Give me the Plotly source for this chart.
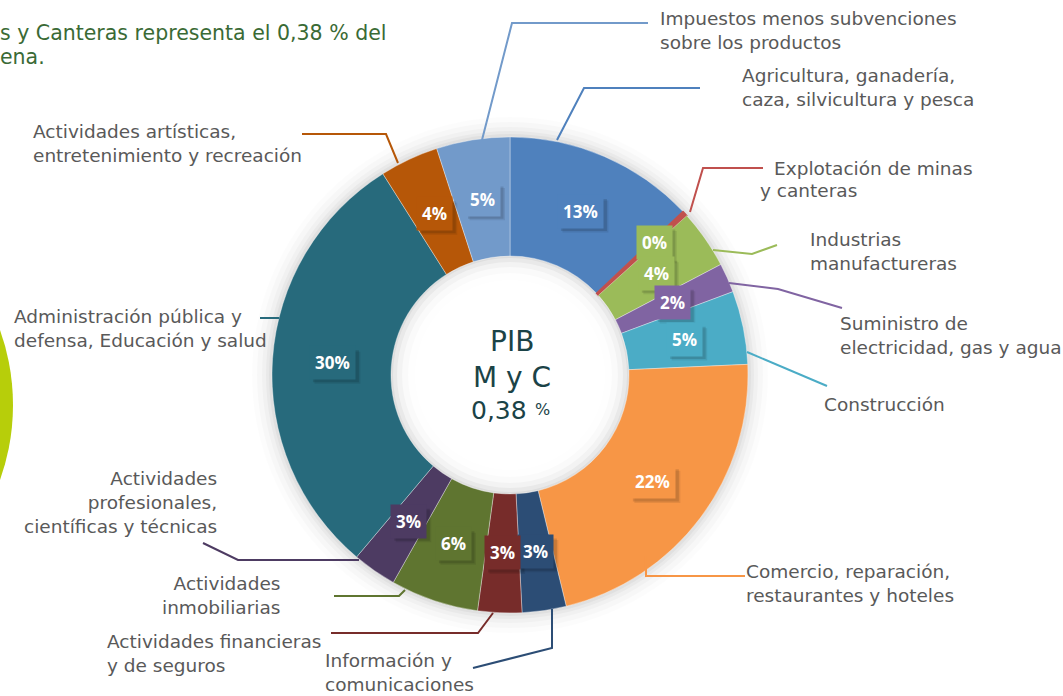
import math
import plotly.graph_objects as go

# ---------------- data ----------------
sectors = [
    "Agricultura, ganadería, caza, silvicultura y pesca",
    "Explotación de minas y canteras",
    "Industrias manufactureras",
    "Suministro de electricidad, gas y agua",
    "Construcción",
    "Comercio, reparación, restaurantes y hoteles",
    "Información y comunicaciones",
    "Actividades financieras y de seguros",
    "Actividades inmobiliarias",
    "Actividades profesionales, científicas y técnicas",
    "Administración pública y defensa, Educación y salud",
    "Actividades artísticas, entretenimiento y recreación",
    "Impuestos menos subvenciones sobre los productos",
]
shares = [13, 0.38, 4, 2, 5, 22, 3, 3, 6, 3, 30, 4, 5]
pct_labels = ["13%", "0%", "4%", "2%", "5%", "22%", "3%", "3%", "6%", "3%", "30%", "4%", "5%"]
slice_colors = ["#4F81BD", "#C0504D", "#9BBB59", "#8064A2", "#4BACC6", "#F79646", "#2C4D75",
                "#772C2A", "#5F7530", "#4D3B62", "#276A7C", "#B65708", "#729ACA"]
label_box_colors = ["#4F81BD", "#9BBB59", "#9BBB59", "#8064A2", "#4BACC6", "#F79646", "#2C4D75",
                    "#772C2A", "#5F7530", "#4D3B62", "#276A7C", "#B65708", "#729ACA"]

outer_text = [
    "Agricultura, ganadería,<br>caza, silvicultura y pesca",
    None,
    "Industrias<br>manufactureras",
    "Suministro de<br>electricidad, gas y agua",
    "Construcción",
    "Comercio, reparación,<br>restaurantes y hoteles",
    "Información y<br>comunicaciones",
    "Actividades financieras<br>y de seguros",
    "Actividades<br>inmobiliarias",
    "Actividades<br>profesionales,<br>científicas y técnicas",
    "Administración pública y<br>defensa, Educación y salud",
    "Actividades artísticas,<br>entretenimiento y recreación",
    "Impuestos menos subvenciones<br>sobre los productos",
]

# ---------------- layout constants (pixels) ----------------
W, H = 1063, 696
CX, CY, R = 510, 375, 238
HOLE = 0.5
label_radius = [178, 196, 178, 178, 178, 178, 178, 178, 178, 178, 178, 178, 178]


def px(x):
    return x / W


def py(y):
    return 1 - y / H


fig = go.Figure()

fig.add_trace(go.Pie(
    labels=sectors,
    values=shares,
    sort=False,
    direction="clockwise",
    rotation=0,
    hole=HOLE,
    textinfo="none",
    hoverinfo="label+percent",
    marker=dict(colors=slice_colors,
                line=dict(color=["rgba(255,255,255,0.45)"] + ["#C0504D"] + ["rgba(255,255,255,0.45)"] * 11,
                          width=[0.8, 1.5] + [0.8] * 11)),
    domain=dict(x=[px(CX - R), px(CX + R)], y=[py(CY + R), py(CY - R)]),
    showlegend=False,
))

shapes = []
# soft outer glow
for rr, a in [(258, 0.012), (253, 0.018), (248, 0.024), (244, 0.03), (241, 0.035)]:
    shapes.append(dict(type="circle", xref="paper", yref="paper", layer="below",
                       x0=px(CX - rr), x1=px(CX + rr), y0=py(CY + rr), y1=py(CY - rr),
                       fillcolor=f"rgba(0,0,0,{a})", line=dict(width=0)))
# inner shading of the hole
shapes.append(dict(type="circle", xref="paper", yref="paper", layer="below",
                   x0=px(CX - 121), x1=px(CX + 121), y0=py(CY + 121), y1=py(CY - 121),
                   fillcolor="rgb(222,222,222)", line=dict(width=0)))
for rr, a in [(117, 0.35), (113, 0.45), (108, 0.55), (102, 0.7), (95, 0.85), (88, 1.0)]:
    shapes.append(dict(type="circle", xref="paper", yref="paper", layer="below",
                       x0=px(CX - rr), x1=px(CX + rr), y0=py(CY + rr), y1=py(CY - rr),
                       fillcolor=f"rgba(255,255,255,{a})", line=dict(width=0)))
# yellow-green decorative circle at the left edge
shapes.append(dict(type="circle", xref="paper", yref="paper", layer="below",
                   x0=px(-433), x1=px(13), y0=py(628), y1=py(182),
                   fillcolor="#B7CE0A", line=dict(width=0)))

# leader lines (pixel paths), colour from slice
leaders = [
    [(557, 140), (584, 88), (700, 88)],
    [(690, 212), (703, 168), (763, 168)],
    [(713, 250), (752, 254), (777, 245)],
    [(729, 283), (778, 289), (842, 308)],
    [(747, 352), (827, 386)],
    [(646, 556), (646, 576), (745, 576)],
    [(552, 609), (552, 648), (473, 668)],
    [(493, 613), (478, 633), (331, 633)],
    [(405, 590), (399, 596), (334, 596)],
    [(359, 560), (238, 560), (203, 543)],
    [(279, 318), (260, 318)],
    [(398, 163), (386, 134), (302, 134)],
    [(482, 140), (512, 23), (648, 23)],
]
for pts, col in zip(leaders, slice_colors):
    path = "M " + " L ".join(f"{px(x):.5f},{py(y):.5f}" for x, y in pts)
    shapes.append(dict(type="path", xref="paper", yref="paper", path=path,
                       line=dict(color=col, width=2)))

annotations = []
total = sum(shares)
cum = 0
LAB_SIZE, PAD = 17, 5
lab_font = dict(family="Open Sans, Arial", size=LAB_SIZE, color="white")
for v, t, bc, rl in zip(shares, pct_labels, label_box_colors, label_radius):
    ang = math.radians((cum + v / 2) / total * 360)
    cum += v
    lx = CX + rl * math.sin(ang)
    ly = CY - rl * math.cos(ang)
    # soft drop shadow behind the label box
    bw = 10.5 * (len(t) - 1) + 15 + 2 * PAD
    bh = 1.3 * LAB_SIZE + 2 * PAD
    for off, a in [(5, 0.08), (3.5, 0.12)]:
        shapes.append(dict(type="rect", xref="paper", yref="paper", layer="above",
                           x0=px(lx - bw / 2 + off), x1=px(lx + bw / 2 + off),
                           y0=py(ly + bh / 2 + off), y1=py(ly - bh / 2 + off),
                           fillcolor=f"rgba(0,0,0,{a})", line=dict(width=0)))
    annotations.append(dict(x=px(lx), y=py(ly), xref="paper", yref="paper", showarrow=False,
                            xanchor="center", yanchor="middle",
                            text=f"<b>{t}</b>", font=lab_font, bgcolor=bc, borderpad=PAD))

outer_pos = [
    (740, 87, "left"),
    None,
    (808, 252, "left"),
    (838, 335, "left"),
    (822, 404, "left"),
    (744, 583, "left"),
    (323, 672, "left"),
    (105, 653, "left"),
    (282, 595, "right"),
    (219, 502, "right"),
    (12, 329, "left"),
    (31, 143, "left"),
    (658, 30, "left"),
]
txt_font = dict(family="DejaVu Sans, Verdana", size=18.5, color="#595959")
for t, pos in zip(outer_text, outer_pos):
    if t is None:
        continue
    x, y, anc = pos
    annotations.append(dict(x=px(x), y=py(y), xref="paper", yref="paper", showarrow=False,
                            text=t, font=txt_font, xanchor=anc, align=anc, yanchor="middle"))
annotations.append(dict(x=px(772), y=py(168), xref="paper", yref="paper", showarrow=False,
                        text="Explotación de minas", font=txt_font, xanchor="left", yanchor="middle"))
annotations.append(dict(x=px(758), y=py(191), xref="paper", yref="paper", showarrow=False,
                        text="y canteras", font=txt_font, xanchor="left", yanchor="middle"))

# centre text
ctr_font = dict(family="DejaVu Sans, Verdana", size=28, color="#1B4347")
annotations.append(dict(x=px(CX + 2), y=py(341), xref="paper", yref="paper", showarrow=False,
                        text="PIB", font=ctr_font, xanchor="center", yanchor="middle"))
annotations.append(dict(x=px(CX + 2), y=py(377), xref="paper", yref="paper", showarrow=False,
                        text="M y C", font=ctr_font, xanchor="center", yanchor="middle"))
annotations.append(dict(x=px(529), y=py(410), xref="paper", yref="paper", showarrow=False,
                        text="0,38", font=dict(family="DejaVu Sans, Verdana", size=25, color="#1B4347"),
                        xanchor="right", yanchor="middle"))
annotations.append(dict(x=px(533), y=py(409), xref="paper", yref="paper", showarrow=False,
                        text="%", font=dict(family="DejaVu Sans, Verdana", size=16, color="#1B4347"),
                        xanchor="left", yanchor="middle"))

head_font = dict(family="DejaVu Sans, Verdana", size=20.5, color="#3A6A35")
annotations.append(dict(x=px(-2), y=py(33), xref="paper", yref="paper", showarrow=False,
                        text="s y Canteras representa el 0,38 % del", font=head_font,
                        xanchor="left", yanchor="middle"))
annotations.append(dict(x=px(-2), y=py(57), xref="paper", yref="paper", showarrow=False,
                        text="ena.", font=head_font, xanchor="left", yanchor="middle"))

fig.update_layout(
    width=W, height=H,
    margin=dict(l=0, r=0, t=0, b=0),
    paper_bgcolor="white",
    plot_bgcolor="white",
    shapes=shapes,
    annotations=annotations,
    showlegend=False,
)

fig.write_html("out.html", config={"displayModeBar": False},
               post_script="document.body.style.margin='0';document.body.style.overflow='hidden';")
